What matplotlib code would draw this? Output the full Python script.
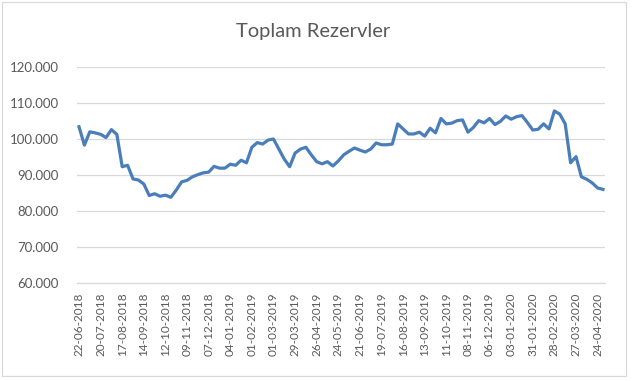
import matplotlib.pyplot as plt
from matplotlib.ticker import FuncFormatter
from matplotlib.patches import Rectangle

# Haftalik toplam rezerv degerleri (22-06-2018 ... 01-05-2020)
rezervler = [
    103400, 98300, 102000, 101700, 101300, 100400, 102600, 101300, 92300, 92700,
    88900, 88600, 87500, 84300, 84800, 84100, 84400, 83800, 85800, 88100,
    88500, 89500, 90100, 90600, 90800, 92400, 91900, 91900, 93000, 92700,
    94100, 93400, 97700, 99000, 98600, 99700, 100000, 97200, 94400, 92300,
    96100, 97200, 97700, 95600, 93700, 93100, 93700, 92500, 93900, 95600,
    96600, 97500, 96900, 96400, 97200, 98900, 98400, 98400, 98600, 104200,
    102800, 101400, 101400, 101900, 100800, 103000, 101700, 105700, 104200, 104400,
    105100, 105300, 101900, 103200, 105100, 104500, 105700, 104000, 104900, 106400,
    105500, 106200, 106500, 104600, 102500, 102700, 104200, 102800, 107800, 106900,
    104200, 93400, 95100, 89500, 88800, 87800, 86400, 86000,
]

tarih_etiketleri = [
    '22-06-2018', '20-07-2018', '17-08-2018', '14-09-2018', '12-10-2018',
    '09-11-2018', '07-12-2018', '04-01-2019', '01-02-2019', '01-03-2019',
    '29-03-2019', '26-04-2019', '24-05-2019', '21-06-2019', '19-07-2019',
    '16-08-2019', '13-09-2019', '11-10-2019', '08-11-2019', '06-12-2019',
    '03-01-2020', '31-01-2020', '28-02-2020', '27-03-2020', '24-04-2020',
]
etiket_adimi = 4  # her 4 haftada bir etiket

renk_yazi = '#595959'
renk_izgara = '#D9D9D9'
renk_cizgi = '#4A7EBB'

fig = plt.figure(figsize=(6.32, 3.81), dpi=100)
ax = fig.add_axes([77 / 632, 1 - 283 / 381, (605 - 77) / 632, (283 - 67) / 381])

x = list(range(len(rezervler)))
ax.plot(x, rezervler, color=renk_cizgi, linewidth=2.3, solid_joinstyle='round')

ax.set_ylim(60000, 120000)
ax.set_yticks(range(60000, 120001, 10000))
ax.yaxis.set_major_formatter(FuncFormatter(lambda v, p: f'{v:,.0f}'.replace(',', '.')))
ax.set_xlim(-0.37, len(rezervler) - 1 + 0.37)
ax.set_xticks(range(0, len(tarih_etiketleri) * etiket_adimi, etiket_adimi))
ax.set_xticklabels(tarih_etiketleri, rotation=90)

ax.grid(axis='y', color=renk_izgara, linewidth=0.9)
ax.set_axisbelow(True)
for s in ['left', 'right', 'top']:
    ax.spines[s].set_visible(False)
ax.spines['bottom'].set_color(renk_izgara)
ax.spines['bottom'].set_linewidth(0.9)
ax.tick_params(axis='both', length=0, colors=renk_yazi)
ax.tick_params(axis='y', pad=13, labelsize=9.5)
ax.tick_params(axis='x', pad=7, labelsize=8.5)
for lbl in ax.get_xticklabels() + ax.get_yticklabels():
    lbl.set_fontfamily('Lato')

fig.text(313 / 632, 1 - 31 / 381, 'Toplam Rezervler', ha='center', va='center',
         fontsize=14.5, color=renk_yazi, fontfamily='Lato')

# grafik alani cercevesi
fig.patches.append(Rectangle((1.5 / 632, 1 - 376 / 381), 624.5 / 632, 374.5 / 381,
                             transform=fig.transFigure, fill=False,
                             edgecolor=renk_izgara, linewidth=0.9))

fig.savefig('out.png', dpi=100)
